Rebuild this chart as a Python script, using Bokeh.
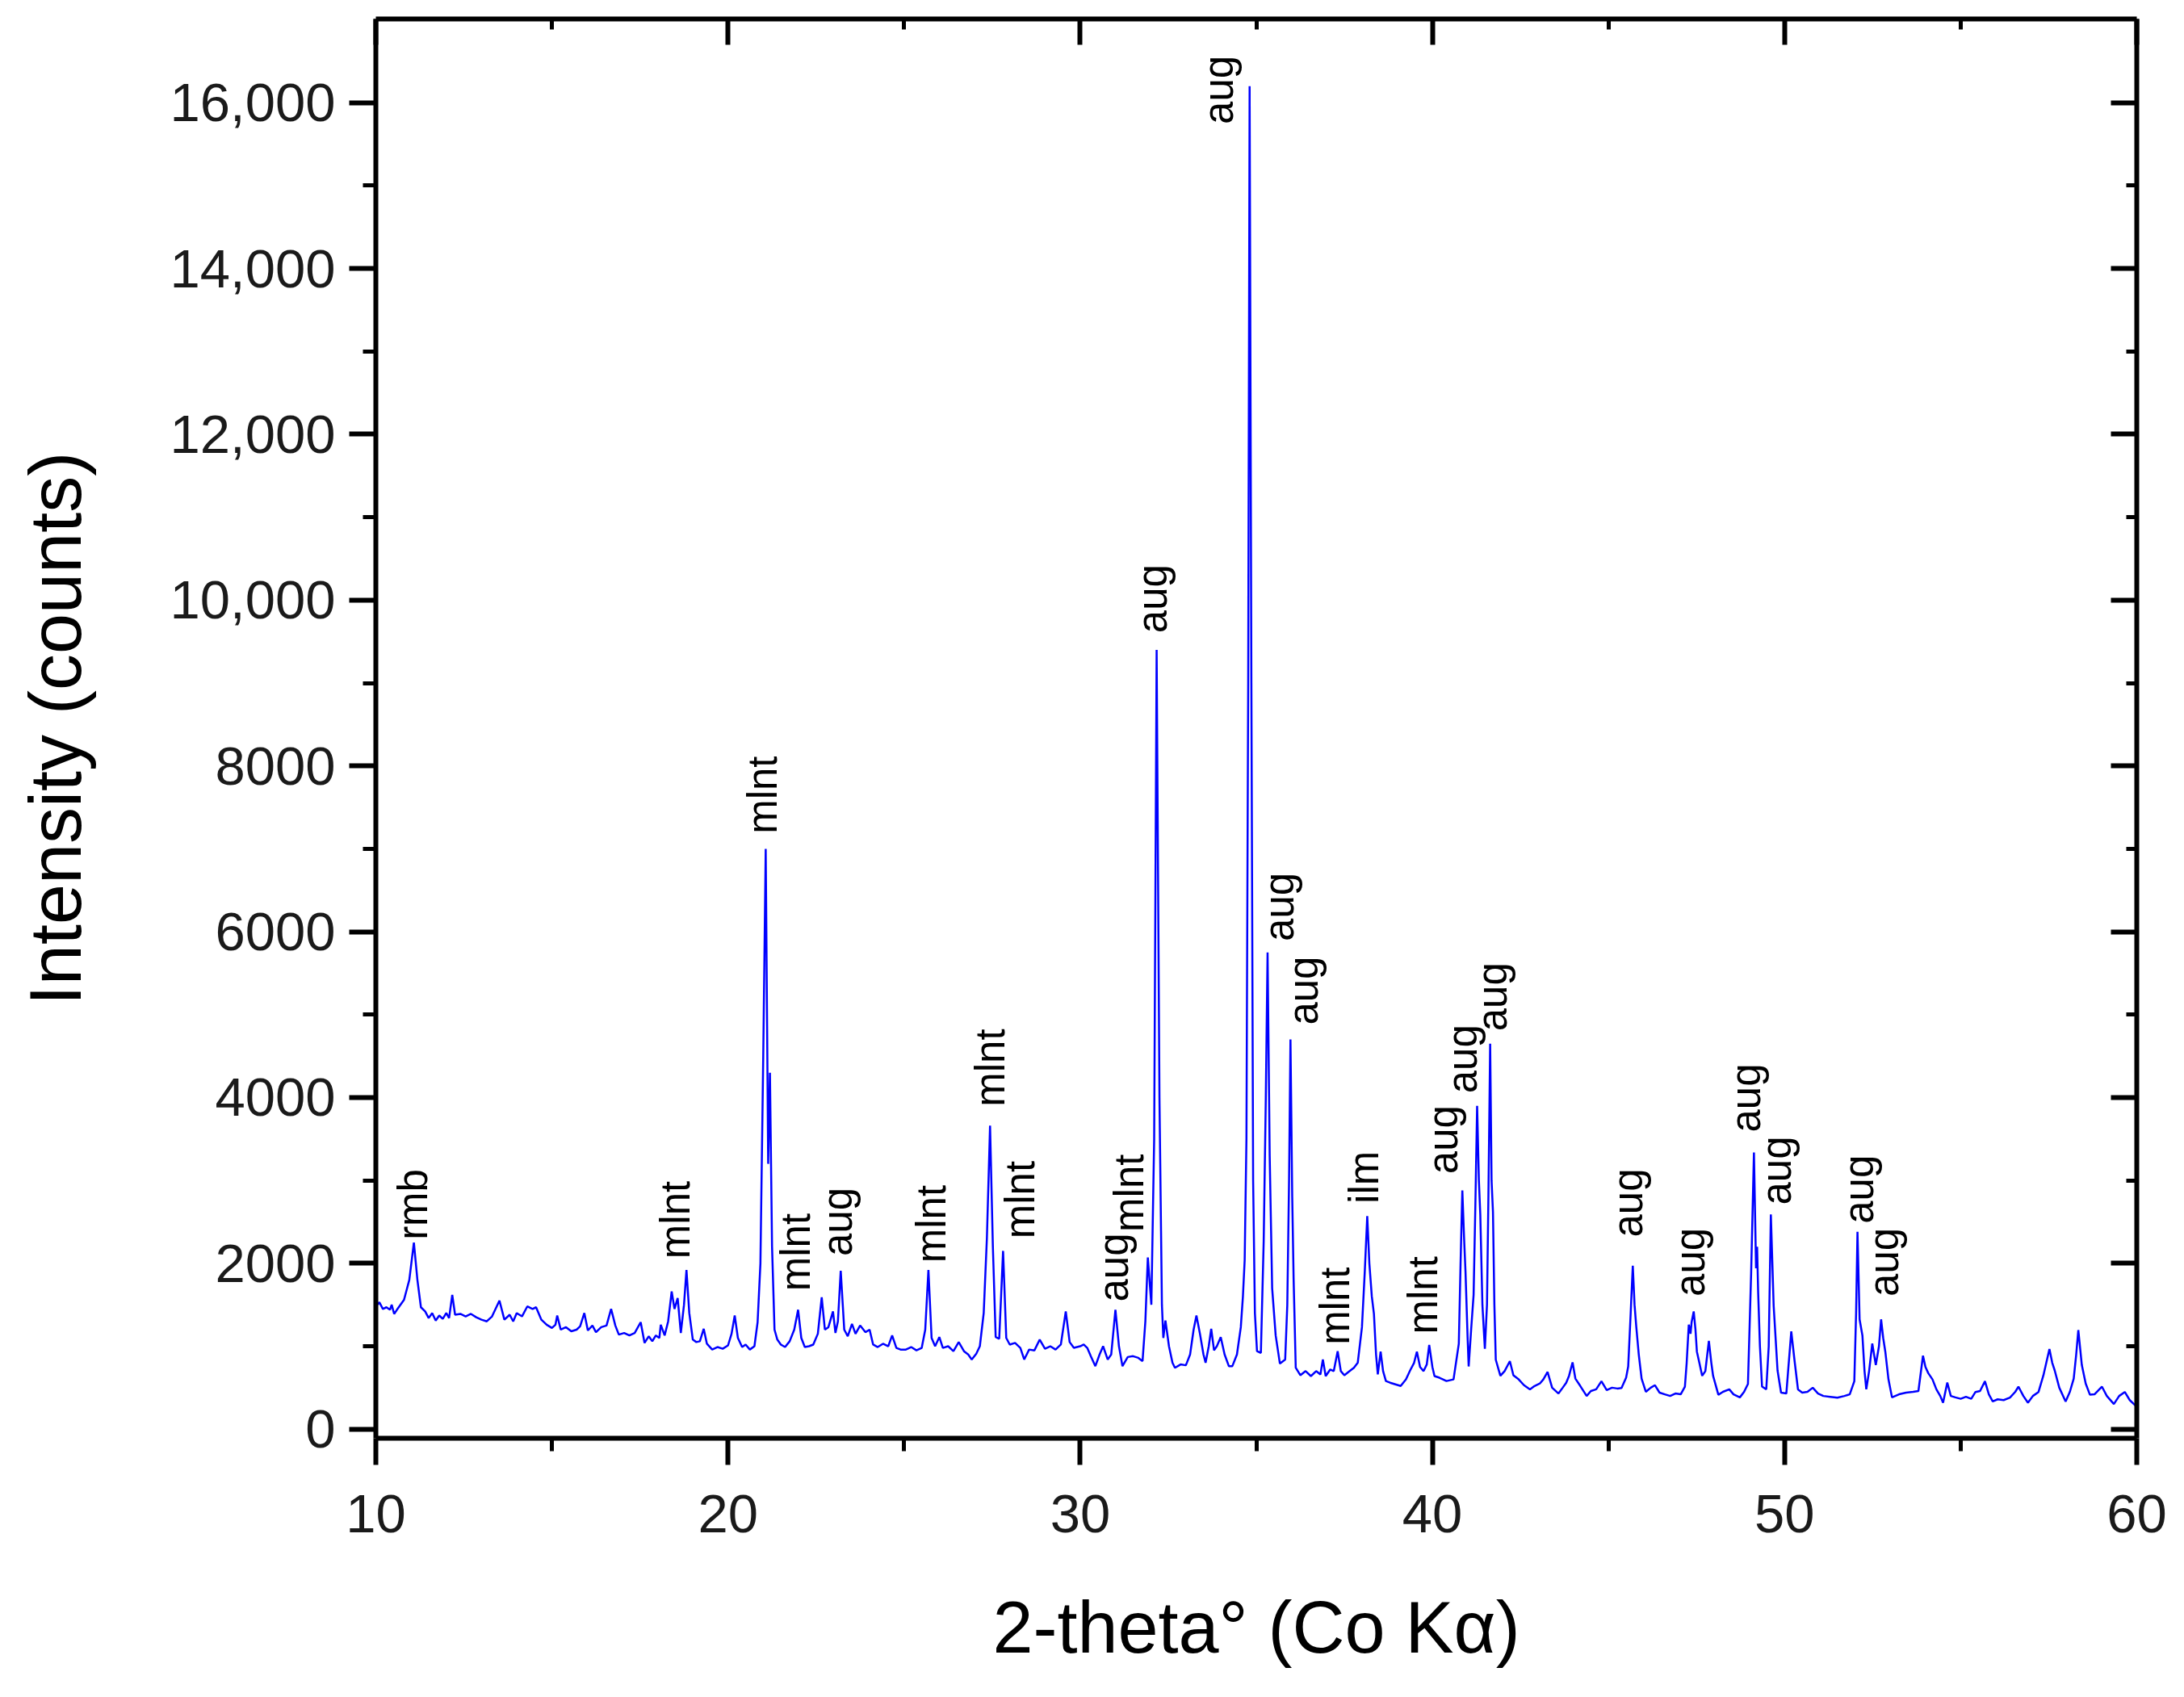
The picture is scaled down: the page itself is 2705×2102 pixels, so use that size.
import math
from bokeh.plotting import figure
from bokeh.models import LinearAxis, FixedTicker, Range1d, ColumnDataSource
from bokeh.core.properties import value
from bokeh.embed import file_html
from bokeh.resources import INLINE


### XRD pattern, values

two_theta = [
    10.00, 10.10, 10.20, 10.30, 10.40, 10.45, 10.52, 10.60, 10.80, 10.95,
    11.08, 11.18, 11.28, 11.40, 11.50, 11.60, 11.70, 11.80, 11.90, 12.00,
    12.08, 12.17, 12.25, 12.40, 12.55, 12.70, 12.85, 13.00, 13.15, 13.30,
    13.51, 13.65, 13.80, 13.90, 14.00, 14.15, 14.30, 14.45, 14.55, 14.70,
    14.85, 15.00, 15.10, 15.15, 15.25, 15.40, 15.55, 15.70, 15.80, 15.92,
    16.02, 16.15, 16.25, 16.40, 16.55, 16.68, 16.80, 16.90, 17.05, 17.20,
    17.35, 17.52, 17.63, 17.75, 17.85, 17.95, 18.05, 18.09, 18.20, 18.30,
    18.40, 18.48, 18.57, 18.66, 18.75, 18.82, 18.90, 19.00, 19.10, 19.20,
    19.31, 19.40, 19.55, 19.70, 19.85, 20.00, 20.10, 20.19, 20.28, 20.40,
    20.50, 20.62, 20.75, 20.84, 20.92, 21.00, 21.07, 21.14, 21.19, 21.25,
    21.32, 21.40, 21.50, 21.62, 21.75, 21.88, 21.99, 22.08, 22.18, 22.30,
    22.42, 22.55, 22.66, 22.75, 22.85, 22.98, 23.05, 23.12, 23.20, 23.30,
    23.40, 23.52, 23.62, 23.75, 23.90, 24.02, 24.12, 24.25, 24.40, 24.55,
    24.66, 24.78, 24.90, 25.05, 25.20, 25.35, 25.50, 25.60, 25.69, 25.78,
    25.88, 26.00, 26.10, 26.25, 26.40, 26.55, 26.70, 26.82, 26.92, 27.05,
    27.15, 27.26, 27.35, 27.44, 27.52, 27.60, 27.70, 27.81, 27.90, 28.00,
    28.15, 28.30, 28.41, 28.55, 28.70, 28.85, 29.00, 29.15, 29.30, 29.45,
    29.59, 29.70, 29.82, 30.00, 30.10, 30.20, 30.30, 30.43, 30.55, 30.65,
    30.78, 30.88, 31.00, 31.10, 31.20, 31.35, 31.50, 31.65, 31.77, 31.85,
    31.92, 32.02, 32.10, 32.17, 32.25, 32.32, 32.36, 32.42, 32.52, 32.62,
    32.69, 32.85, 33.00, 33.12, 33.22, 33.30, 33.40, 33.50, 33.56, 33.65,
    33.72, 33.80, 33.88, 33.99, 34.10, 34.22, 34.32, 34.45, 34.56, 34.62,
    34.67, 34.72, 34.77, 34.81, 34.86, 34.91, 34.96, 35.02, 35.13, 35.21,
    35.27, 35.32, 35.38, 35.45, 35.55, 35.67, 35.82, 35.88, 35.93, 35.97,
    36.02, 36.06, 36.12, 36.25, 36.40, 36.55, 36.70, 36.82, 36.89, 36.97,
    37.10, 37.20, 37.31, 37.40, 37.50, 37.65, 37.77, 37.88, 38.00, 38.08,
    38.15, 38.21, 38.28, 38.34, 38.40, 38.45, 38.53, 38.60, 38.68, 38.80,
    38.95, 39.10, 39.25, 39.37, 39.48, 39.56, 39.65, 39.75, 39.84, 39.91,
    40.00, 40.06, 40.20, 40.40, 40.60, 40.75, 40.80, 40.85, 40.90, 40.94,
    41.00, 41.03, 41.10, 41.17, 41.22, 41.27, 41.32, 41.36, 41.42, 41.49,
    41.55, 41.59, 41.64, 41.68, 41.72, 41.76, 41.80, 41.93, 42.05, 42.20,
    42.30, 42.45, 42.60, 42.77, 42.90, 43.05, 43.15, 43.27, 43.40, 43.58,
    43.70, 43.80, 43.88, 43.98, 44.06, 44.20, 44.38, 44.50, 44.65, 44.80,
    44.95, 45.10, 45.25, 45.37, 45.50, 45.56, 45.63, 45.69, 45.74, 45.79,
    45.86, 45.94, 46.06, 46.20, 46.32, 46.45, 46.60, 46.75, 46.90, 47.05,
    47.17, 47.22, 47.28, 47.33, 47.36, 47.42, 47.47, 47.51, 47.58, 47.66,
    47.75, 47.85, 47.92, 47.97, 48.12, 48.25, 48.43, 48.55, 48.73, 48.85,
    48.96, 49.05, 49.13, 49.19, 49.22, 49.25, 49.30, 49.36, 49.48, 49.55,
    49.61, 49.69, 49.80, 49.90, 50.05, 50.10, 50.19, 50.28, 50.38, 50.50,
    50.65, 50.80, 50.95, 51.10, 51.30, 51.50, 51.70, 51.85, 51.98, 52.03,
    52.07, 52.13, 52.21, 52.27, 52.32, 52.40, 52.49, 52.59, 52.68, 52.74,
    52.80, 52.86, 52.95, 53.05, 53.25, 53.45, 53.65, 53.80, 53.93, 54.00,
    54.08, 54.20, 54.31, 54.42, 54.50, 54.62, 54.72, 54.85, 55.00, 55.15,
    55.30, 55.42, 55.55, 55.69, 55.80, 55.91, 56.05, 56.22, 56.40, 56.55,
    56.64, 56.78, 56.91, 57.05, 57.21, 57.35, 57.52, 57.60, 57.67, 57.80,
    57.98, 58.10, 58.21, 58.28, 58.34, 58.44, 58.55, 58.67, 58.80, 59.01,
    59.15, 59.35, 59.50, 59.66, 59.80, 59.96, 60.00,
]

intensity = [
    1480, 1530, 1450, 1470, 1440, 1500, 1390, 1440, 1560, 1800,
    2250, 1800, 1470, 1420, 1340, 1400, 1310, 1370, 1330, 1400,
    1340, 1620, 1380, 1390, 1360, 1390, 1350, 1320, 1300, 1360,
    1550, 1320, 1380, 1300, 1400, 1360, 1480, 1450, 1470, 1320,
    1260, 1220, 1260, 1370, 1200, 1230, 1180, 1200, 1240, 1400,
    1190, 1250, 1170, 1230, 1250, 1450, 1250, 1140, 1160, 1130,
    1160, 1290, 1040, 1120, 1060, 1130, 1100, 1260, 1130, 1300,
    1660, 1450, 1580, 1160, 1500, 1920, 1400, 1080, 1050, 1060,
    1210, 1030, 960, 990, 970, 1010, 1150, 1370, 1100, 990,
    1020, 960, 1000, 1290, 2000, 4500, 7000, 3200, 4300, 2200,
    1200, 1080, 1020, 990, 1060, 1200, 1440, 1100, 990, 1000,
    1020, 1150, 1590, 1200, 1230, 1420, 1160, 1300, 1910, 1200,
    1120, 1270, 1150, 1250, 1170, 1200, 1020, 990, 1030, 1000,
    1130, 980, 960, 960, 990, 950, 980, 1200, 1920, 1100,
    1000, 1110, 980, 1000, 940, 1050, 940, 900, 840, 910,
    1000, 1400, 2300, 3660, 2200, 1110, 1090, 2150, 1100, 1020,
    1040, 980, 840, 960, 950, 1080, 970, 1000, 960, 1020,
    1420, 1050, 980, 1000, 1020, 980, 880, 760, 900, 1000,
    840, 900, 1440, 1000, 760, 870, 880, 860, 820, 1300,
    2070, 1500, 3500, 9400, 4000, 1500, 1100, 1310, 1000, 800,
    740, 780, 770, 900, 1200, 1370, 1150, 900, 800, 1000,
    1210, 950, 1000, 1110, 900, 760, 760, 900, 1230, 1600,
    2040, 3500, 9000, 16200, 9000, 3000, 1400, 940, 920, 2270,
    4000, 5750, 3300, 1700, 1130, 790, 840, 1500, 3000, 4700,
    2800, 1800, 740, 650, 700, 640, 700, 660, 840, 640,
    720, 700, 940, 700, 650, 700, 740, 800, 1230, 1900,
    2570, 2000, 1600, 1390, 900, 660, 935, 700, 580, 560,
    540, 520, 600, 710, 800, 935, 750, 700, 780, 1016,
    750, 640, 620, 580, 600, 1030, 2000, 2880, 2300, 1900,
    1100, 756, 1200, 1620, 2700, 3900, 3000, 2590, 1500, 970,
    1500, 2790, 4650, 3000, 2620, 1500, 837, 643, 700, 820,
    650, 600, 530, 480, 520, 550, 600, 690, 500, 430,
    500, 560, 643, 805, 610, 520, 400, 460, 480, 578,
    470, 500, 490, 497, 620, 756, 1400, 1970, 1500, 1230,
    900, 610, 450, 500, 530, 440, 420, 400, 430, 420,
    513, 800, 1260, 1150, 1290, 1420, 1200, 935, 800, 643,
    700, 1065, 800, 643, 415, 450, 480, 420, 383, 450,
    545, 1876, 3337, 1941, 2200, 1649, 1000, 513, 480, 1000,
    2590, 1487, 708, 440, 430, 700, 1180, 837, 480, 440,
    450, 500, 430, 400, 390, 380, 400, 420, 578, 1389,
    2380, 1324, 1130, 700, 480, 700, 1032, 773, 1000, 1324,
    1100, 935, 600, 383, 420, 440, 450, 460, 886, 750,
    675, 600, 480, 400, 318, 562, 400, 383, 366, 390,
    366, 448, 460, 578, 420, 334, 360, 350, 380, 450,
    513, 400, 318, 400, 448, 650, 967, 800, 708, 500,
    334, 450, 610, 900, 1195, 773, 550, 415, 420, 513,
    400, 302, 400, 448, 350, 286, 300,
]

# phase labels: baseline position (2-theta) and where the text starts (counts)
label_text = ["rmb", "mlnt", "mlnt", "mlnt", "aug", "mlnt", "mlnt", "mlnt",
              "aug", "mlnt", "aug", "aug", "aug", "aug", "mlnt", "ilm",
              "mlnt", "aug", "aug", "aug", "aug", "aug", "aug", "aug",
              "aug", "aug"]
label_x = [11.42, 18.88, 21.34, 22.28, 23.48, 26.14, 27.82, 28.67,
           31.33, 31.75, 32.42, 34.31, 36.01, 36.70, 37.61, 38.42,
           40.09, 40.67, 41.23, 42.08, 45.92, 47.70, 49.27, 50.15,
           52.48, 53.20]
label_y = [2282, 2055, 7181, 1665, 2087, 2006, 3890, 2298,
           1535, 2379, 9602, 15740, 5885, 4875, 1016, 2720,
           1146, 3077, 4050, 4800, 2314, 1600, 3580, 2704,
           2477, 1600]

x_major = [10, 20, 30, 40, 50, 60]
x_minor = [15, 25, 35, 45, 55]
y_major = [0, 2000, 4000, 6000, 8000, 10000, 12000, 14000, 16000]
y_minor = [1000, 3000, 5000, 7000, 9000, 11000, 13000, 15000]
y_tick_labels = {16000: "16,000", 14000: "14,000", 12000: "12,000", 10000: "10,000"}

FONT = "Liberation Sans"


def style_axis(ax, major, minor, outward):
    ax.ticker = FixedTicker(ticks=major, minor_ticks=minor)
    ax.axis_line_width = 6
    ax.axis_line_color = "black"
    ax.major_tick_line_width = 6
    ax.minor_tick_line_width = 5
    ax.major_tick_line_color = "black"
    ax.minor_tick_line_color = "black"
    if outward:
        ax.major_tick_out = 33
        ax.major_tick_in = 0
        ax.minor_tick_out = 16
        ax.minor_tick_in = 0
    else:
        ax.major_tick_out = 0
        ax.major_tick_in = 32
        ax.minor_tick_out = 0
        ax.minor_tick_in = 13
    ax.major_label_text_font = FONT
    ax.major_label_text_font_size = "67px"
    ax.major_label_text_color = "#1a1a1a"
    ax.axis_label_text_font = FONT
    ax.axis_label_text_font_size = "90px"
    ax.axis_label_text_font_style = "normal"
    ax.axis_label_text_color = "black"


p = figure(frame_width=2181, frame_height=1758,
           x_range=Range1d(10, 60), y_range=Range1d(-110, 17010),
           min_border_left=465, min_border_right=43,
           min_border_top=23, min_border_bottom=305,
           output_backend="svg", toolbar_location=None)
p.background_fill_color = "white"
p.border_fill_color = "white"
p.outline_line_color = None
p.xgrid.visible = False
p.ygrid.visible = False

p.line(two_theta, intensity, line_color="#0000ff", line_width=2.5)

labels = ColumnDataSource(dict(x=label_x, y=label_y, text=label_text))
p.text(x="x", y="y", text="text", source=labels, angle=math.pi / 2,
       x_offset=-16, text_font=value(FONT), text_font_size="51px",
       text_color="black", text_align="left", text_baseline="alphabetic")

# bottom and left axes, ticks outward
style_axis(p.xaxis[0], x_major, x_minor, True)
p.xaxis[0].axis_label = "2-theta\u00b0 (Co K\u03b1)"
p.xaxis[0].major_label_standoff = 37
p.xaxis[0].axis_label_standoff = 65

style_axis(p.yaxis[0], y_major, y_minor, True)
p.yaxis[0].axis_label = "Intensity (counts)"
p.yaxis[0].major_label_overrides = y_tick_labels
p.yaxis[0].major_label_standoff = 17
p.yaxis[0].axis_label_standoff = 89

# mirrored axes on top and right, ticks inward, no labels
top = LinearAxis()
style_axis(top, x_major, x_minor, False)
top.major_label_overrides = {t: "" for t in x_major}
p.add_layout(top, "above")

right = LinearAxis()
style_axis(right, y_major, y_minor, False)
right.major_label_overrides = {t: "" for t in y_major}
p.add_layout(right, "right")

open("out.html", "w").write(file_html(p, INLINE))
